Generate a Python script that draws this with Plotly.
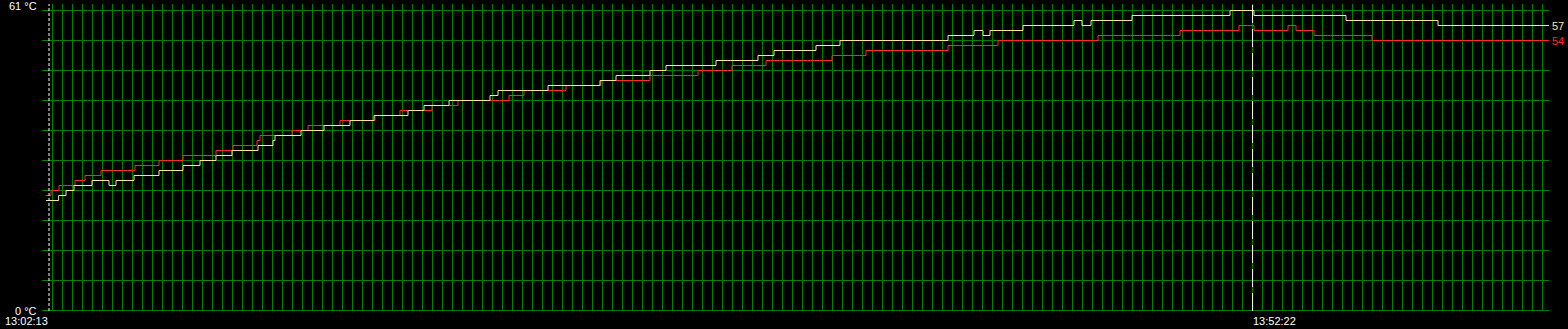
import plotly.graph_objects as go

# ---- data (seconds after 13:02:13, temperature in °C) ----
marker_times = [0, 3009]              # dashed time markers (s)
marker_labels = ["13:02:13", "13:52:22"]

y_min, y_max = 0, 61
x_start, x_end = -17.5, 3750

yellow_t = [-7.5, 24, 42.5, 62.5, 107.5, 150, 167.5, 212.5, 275, 335, 377.5, 417.5,
            457.5, 522.5, 560, 565, 630, 687.5, 752.5, 812.5, 897.5, 937.5, 1000,
            1102.5, 1122.5, 1247.5, 1377.5, 1417.5, 1502.5, 1542.5, 1667.5, 1772.5,
            1812.5, 1917.5, 1977.5, 2247.5, 2312.5, 2335, 2352.5, 2435, 2562.5,
            2582.5, 2605, 2707.5, 2952.5, 3012.5, 3242.5, 3472.5, 3750]
yellow_v = [22, 23, 24, 25, 26, 25, 26, 27, 28, 29, 30, 31,
            32, 33, 34, 35, 36, 37, 38, 39, 40, 41, 42,
            43, 44, 45, 46, 47, 48, 49, 50, 51,
            52, 53, 54, 55, 56, 55, 56, 57, 58,
            57, 58, 59, 60, 59, 58, 57, 57]

red_t = [-7.5, 5, 25, 65, 90, 130, 215, 275, 335, 417.5, 460, 520, 527.5, 607.5,
         647.5, 727.5, 815, 877.5, 957.5, 1022.5, 1150, 1187.5, 1292.5, 1380,
         1502.5, 1622.5, 1707.5, 1792.5, 1957.5, 2042.5, 2247.5, 2372.5, 2622.5,
         2827.5, 2975, 3012.5, 3097.5, 3117.5, 3162.5, 3307.5, 3750]
red_v = [23, 24, 25, 26, 27, 28, 29, 30, 31, 32, 33, 34, 35, 36,
         37, 38, 39, 40, 41, 42, 43, 44, 45, 46,
         47, 48, 49, 50, 51, 52, 53, 54, 55,
         56, 57, 56, 57, 56, 55, 54, 54]

YELLOW = "#ffe4a0"
RED = "#ff2a2a"
GRID = "#008000"
FONT = "Liberation Sans"

fig = go.Figure()
fig.add_trace(go.Scatter(x=red_t, y=red_v, mode="lines", line=dict(color=RED, width=1, shape="hv"),
                         hoverinfo="skip", showlegend=False))
fig.add_trace(go.Scatter(x=yellow_t, y=yellow_v, mode="lines", line=dict(color=YELLOW, width=1, shape="hv"),
                         hoverinfo="skip", showlegend=False))

# dashed time markers
dashes = ["3px,2px", "18px,6px"]
for t, d in zip(marker_times, dashes):
    fig.add_shape(type="line", x0=t, x1=t, y0=0, y1=1, xref="x", yref="paper",
                  line=dict(color="white", width=1, dash=d))

ann = []
ann.append(dict(x=0, xref="paper", xanchor="right", xshift=-3, y=y_max, yref="y", yanchor="middle",
                text=f"{y_max} °C", showarrow=False, font=dict(family=FONT, size=11, color="white")))
ann.append(dict(x=0, xref="paper", xanchor="right", xshift=-3, y=y_min, yref="y", yanchor="middle",
                text=f"{y_min} °C", showarrow=False, font=dict(family=FONT, size=11, color="white")))
for i, (t, lab) in enumerate(zip(marker_times, marker_labels)):
    ann.append(dict(x=t, xref="x", xanchor="right" if i == 0 else "left", xshift=1 if i == 0 else -2,
                    y=0, yref="paper", yanchor="middle", yshift=-10,
                    text=lab, showarrow=False, font=dict(family=FONT, size=11, color="white")))
ann.append(dict(x=1, xref="paper", xanchor="left", xshift=1, y=yellow_v[-1], yref="y", yanchor="middle",
                text=str(yellow_v[-1]), showarrow=False, font=dict(family=FONT, size=11, color=YELLOW)))
ann.append(dict(x=1, xref="paper", xanchor="left", xshift=1, y=red_v[-1], yref="y", yanchor="middle",
                text=str(red_v[-1]), showarrow=False, font=dict(family=FONT, size=11, color=RED)))

fig.update_layout(
    width=1568, height=329,
    margin=dict(l=42, r=19, t=4, b=18),
    paper_bgcolor="black", plot_bgcolor="black",
    annotations=ann,
    xaxis=dict(range=[x_start, x_end], showgrid=True, gridcolor=GRID, gridwidth=1,
               tick0=x_start, dtick=25, showticklabels=False, zeroline=False, ticks="",
               showline=False, fixedrange=True),
    yaxis=dict(range=[-0.1, 61.3], showgrid=True, gridcolor=GRID, gridwidth=1,
               tick0=0, dtick=6, showticklabels=False, zeroline=True, zerolinecolor=GRID,
               zerolinewidth=1, ticks="", showline=False, fixedrange=True),
)

fig.write_html("out.html", config={"displayModeBar": False})
